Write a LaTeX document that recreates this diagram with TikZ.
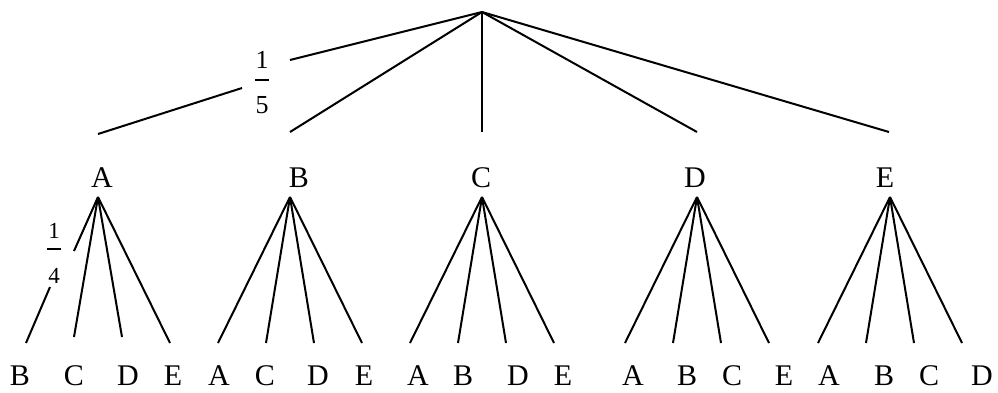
\documentclass[tikz,border=0pt]{standalone}
\usepackage{fontspec}
\setmainfont{Liberation Serif}
\begin{document}
\begin{tikzpicture}[x=1pt,y=-1pt,
  edge/.style={line width=2pt},
  lbl/.style={font=\fontsize{30}{30}\selectfont, inner sep=0pt, anchor=base, text depth=0pt},
  fracnum/.style={font=\fontsize{26}{26}\selectfont, inner sep=0pt, anchor=base, text depth=0pt},
  fracbar/.style={line width=1.4pt}]
\useasboundingbox (0,0) rectangle (998,392);

% root and first level
\coordinate (root) at (482,12);
\coordinate (tA) at (98,134);
\coordinate (tB) at (290,132);
\coordinate (tC) at (482,132);
\coordinate (tD) at (697,132);
\coordinate (tE) at (889,132);
\coordinate (gA1) at (242,88);
\coordinate (gA2) at (290,60);
\draw[edge] (root) -- (gA2);
\draw[edge] (gA1) -- (tA);
\foreach \g in {B,C,D,E} \draw[edge] (root) -- (t\g);

% fraction 1/5
\node[fracnum] (n15) at (262,68) {1};
\node[fracnum] (d15) at (262,113) {5};
\coordinate (b15l) at (255,80);
\coordinate (b15r) at (269,80);
\draw[fracbar] (b15l) -- (b15r);

% level-1 labels
\foreach \g/\x in {A/102,B/299,C/481,D/695,E/885}
  \node[lbl] (L\g) at (\x,187) {\g};

% second level
\foreach \g/\x in {A/98,B/290,C/482,D/697,E/890}{
  \coordinate (p\g) at (\x,197);
  \coordinate (\g1) at (\x-72,343);
  \coordinate (\g2) at (\x-24,343);
  \coordinate (\g3) at (\x+24,343);
  \coordinate (\g4) at (\x+72,343);
}
\coordinate (A2) at (74,337);
\coordinate (A3) at (122,337);
\coordinate (hA1) at (74,251);
\coordinate (hA2) at (50,287);
\draw[edge] (pA) -- (hA1);
\draw[edge] (hA2) -- (A1);
\foreach \i in {2,3,4} \draw[edge] (pA) -- (A\i);
\foreach \g in {B,C,D,E}
  \foreach \i in {1,2,3,4} \draw[edge] (p\g) -- (\g\i);

% fraction 1/4
\node[fracnum,font=\fontsize{23}{23}\selectfont] (n14) at (54,238) {1};
\node[fracnum,font=\fontsize{23}{23}\selectfont] (d14) at (54,283) {4};
\coordinate (b14l) at (47,249);
\coordinate (b14r) at (61,249);
\draw[fracbar] (b14l) -- (b14r);

% leaf labels
\foreach \t/\x [count=\k] in {B/20,C/74,D/128,E/173,
                    A/219,C/265,D/318,E/364,
                    A/418,B/463,D/518,E/563,
                    A/633,B/687,C/732,E/784,
                    A/829,B/884,C/929,D/982}
  \node[lbl] (leaf\k) at (\x,385.5) {\t};
\end{tikzpicture}
\end{document}
